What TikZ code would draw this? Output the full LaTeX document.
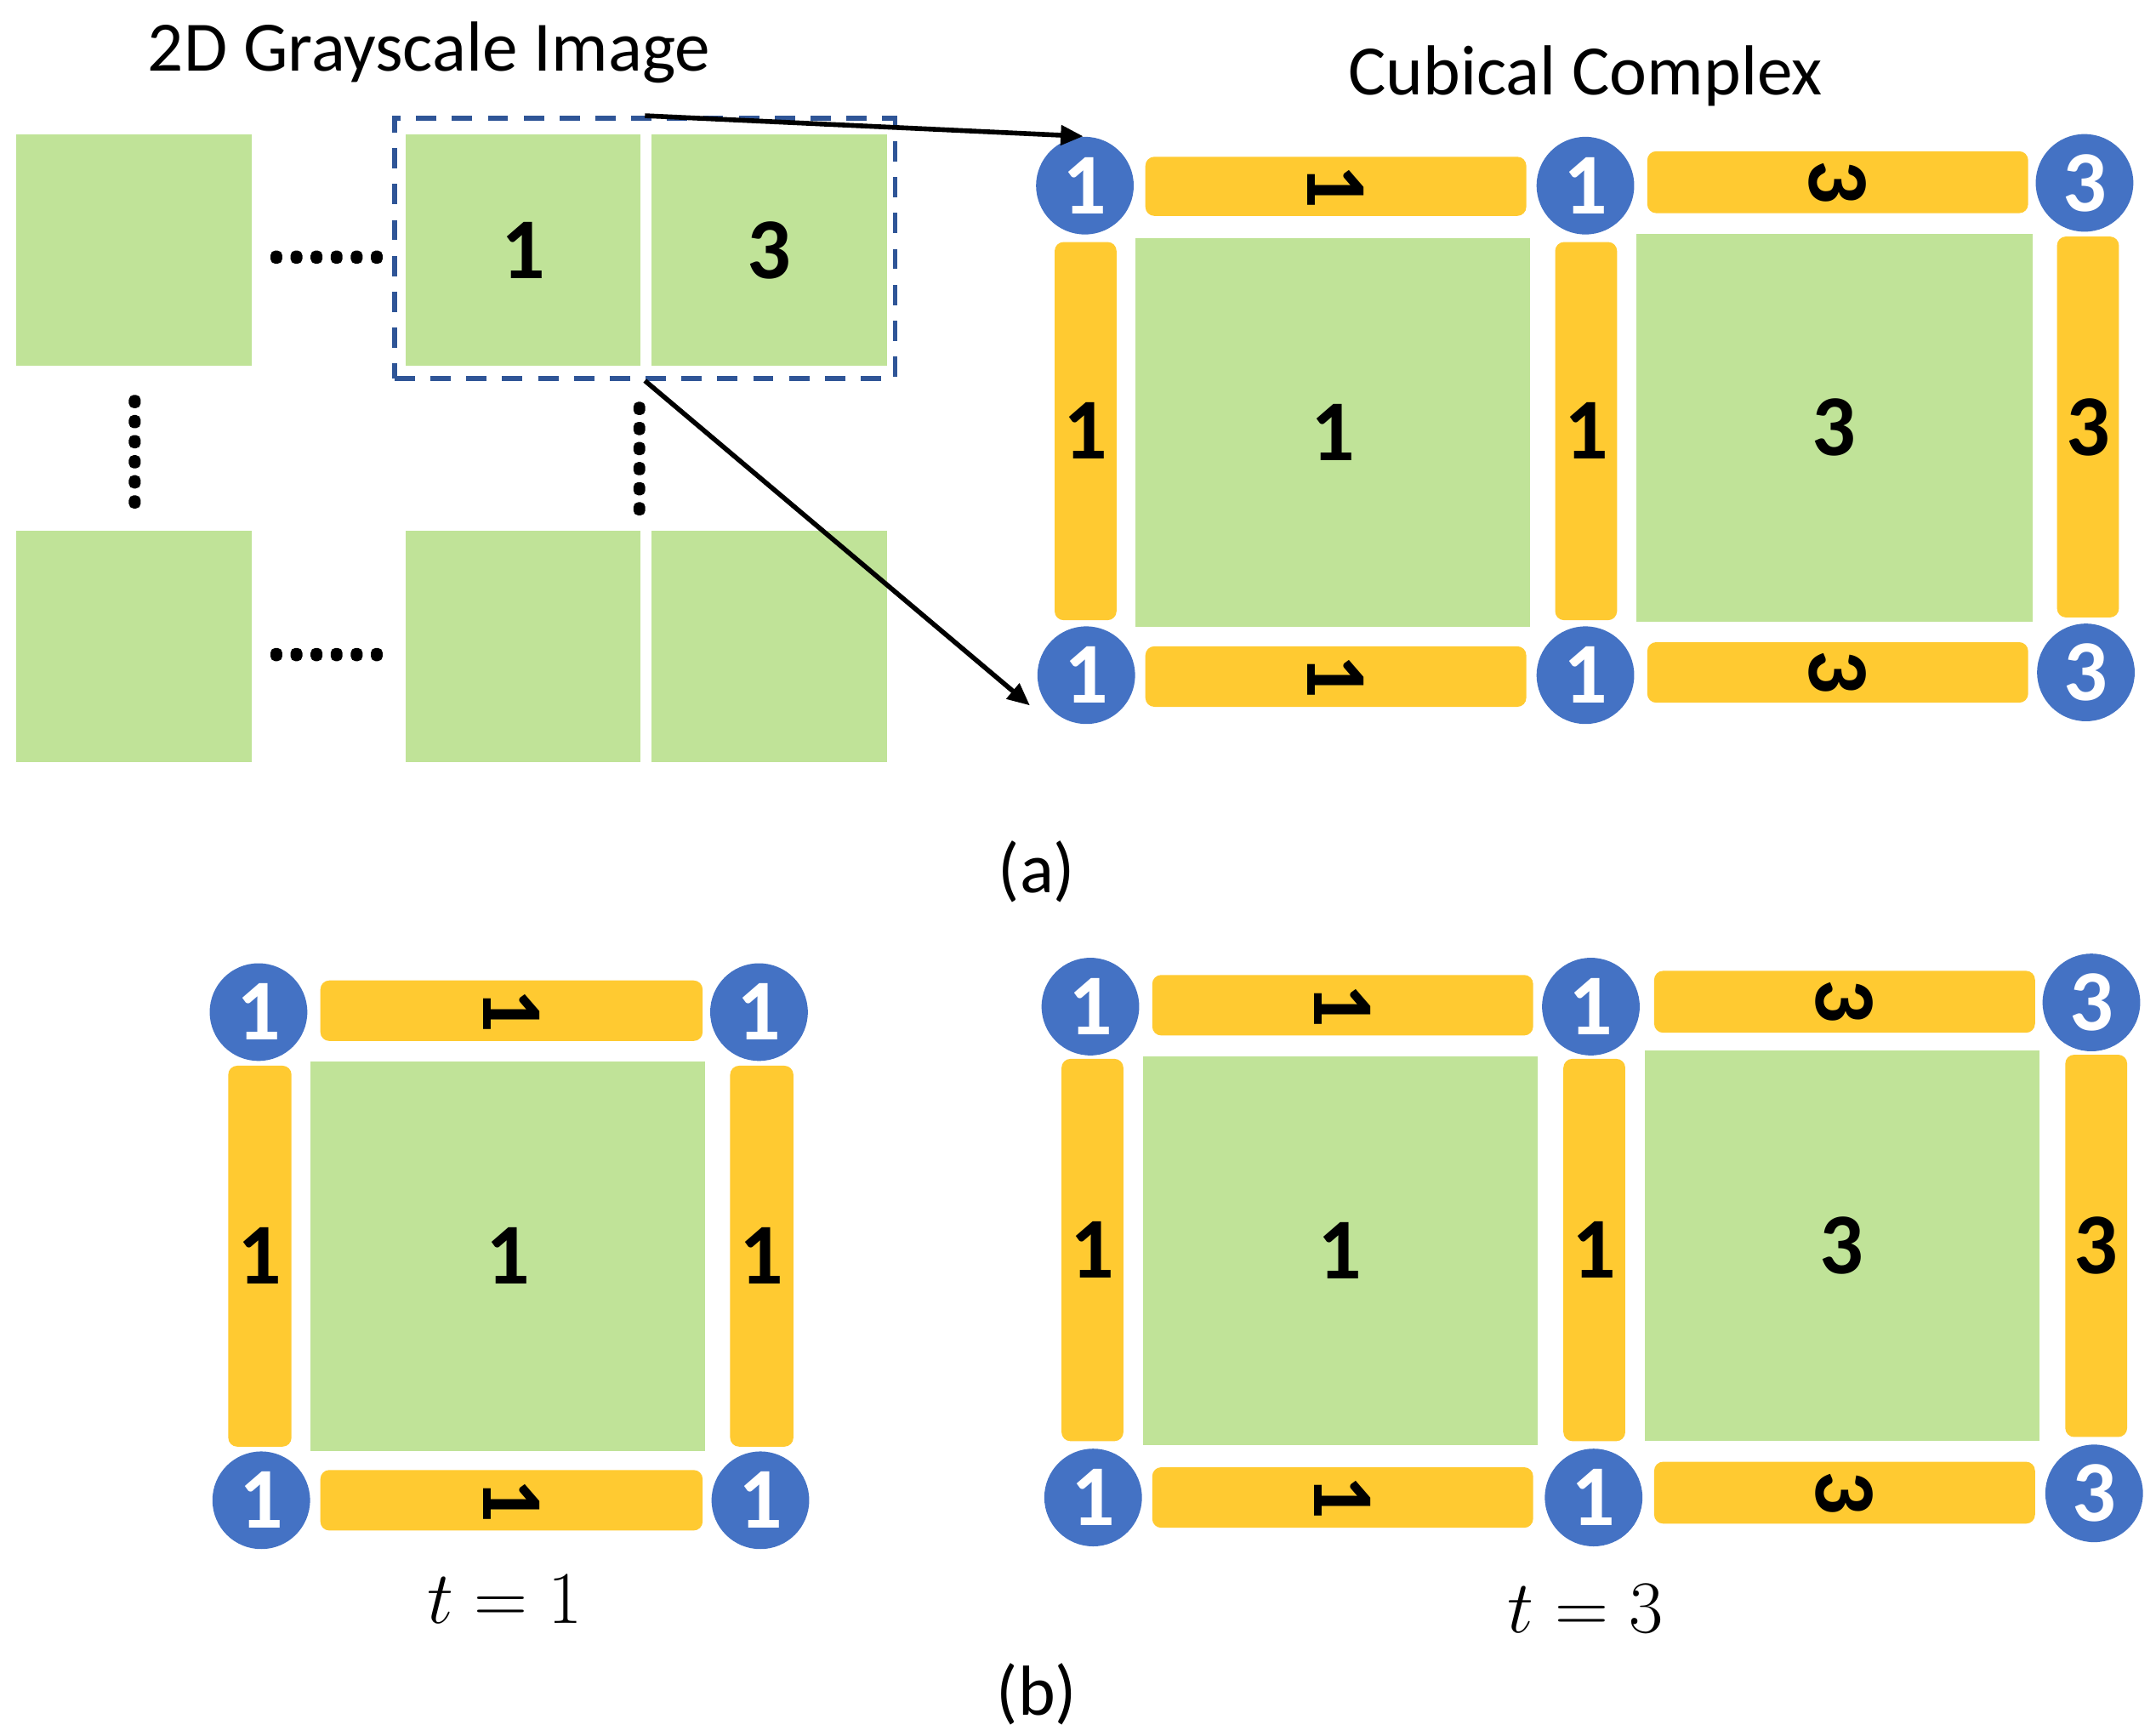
\documentclass[tikz,border=0pt]{standalone}
\usepackage{fontspec}
\setmainfont{Carlito}
\usepackage{graphicx}
\usetikzlibrary{arrows.meta,calc}
\definecolor{cgreen}{HTML}{C0E398}
\definecolor{cyellow}{HTML}{FFCA31}
\definecolor{cblue}{HTML}{4472C4}
\definecolor{cdash}{HTML}{2F5597}
\def\pxu{0.016167cm}
\newcommand\numfont{\bfseries\fontsize{29}{30}\selectfont}
\newcommand\cellnode[7]{\node[#1, minimum width={(#5-#3)*\pxu}, minimum height={(#6-#4)*\pxu}] (#2) at ({(#3+#5)/2},{(#4+#6)/2}) {#7};}
\newcommand\rot[1]{\rotatebox{-90}{#1}}
\tikzset{
  sqr/.style={fill=cgreen, inner sep=0pt, font=\numfont},
  bar/.style={fill=cyellow, rounded corners=3pt, inner sep=0pt, font=\numfont},
  vtx/.style={circle, fill=cblue, text=white, minimum size=71*\pxu, inner sep=0pt, font=\numfont},
  dashbox/.style={draw=cdash, line width=1.7pt, dash pattern=on 6.8pt off 5.2pt, inner sep=0pt},
  dotmark/.style={fill=black, rounded corners=1.6pt},
  arr/.style={line width=1.6pt, -{Triangle[length=7.5pt,width=6.5pt]}},
  ttl/.style={font=\fontsize{23.7}{27}\selectfont, inner sep=0pt},
  mth/.style={font=\fontsize{23}{28}\selectfont, inner sep=0pt}
}
\begin{document}
\begin{tikzpicture}[x=\pxu, y=-\pxu]
\useasboundingbox (0,0) rectangle (1568,1262);
\fill[white] (0,0) rectangle (1568,1262);

% ---------- (a) left: grayscale image ----------
\node[ttl] (title1) at (312,38) {2D Grayscale Image};
\cellnode{sqr}{g1}{12}{98}{183}{266}{}
\cellnode{sqr}{g2}{295}{98}{466}{266}{1}
\cellnode{sqr}{g3}{474}{98}{645}{266}{3}
\cellnode{sqr}{g4}{12}{386}{183}{554}{}
\cellnode{sqr}{g5}{295}{386}{466}{554}{}
\cellnode{sqr}{g6}{474}{386}{645}{554}{}
\cellnode{dashbox}{dbox}{287}{86}{651}{275}{}
% dotted ellipses
\foreach \i in {0,...,5}{
  \fill[dotmark] ({201+14.6*\i-4.3},{187-4.8}) rectangle ++(8.6,9.6);
  \fill[dotmark] ({201+14.6*\i-4.3},{476-4.8}) rectangle ++(8.6,9.6);
  \fill[dotmark] (98-4.3,{292+14.6*\i-4.8}) rectangle ++(8.6,9.6);
  \fill[dotmark] (465-4.3,{297+14.6*\i-4.8}) rectangle ++(8.6,9.6);
}

% ---------- (a) right: cubical complex ----------
\node[ttl] (title2) at (1153,55) {Cubical Complex};
\cellnode{sqr}{sA1}{826}{173}{1113}{456}{1}
\cellnode{sqr}{sA2}{1190}{170}{1478}{452}{3}
\cellnode{bar}{hA1}{833}{114}{1110}{157}{\rot{1}}
\cellnode{bar}{hA2}{1198}{110}{1475}{155}{\rot{3}}
\cellnode{bar}{hA3}{833}{470}{1110}{514}{\rot{1}}
\cellnode{bar}{hA4}{1198}{467}{1475}{511}{\rot{3}}
\cellnode{bar}{vA1}{767}{176}{812}{451}{1}
\cellnode{bar}{vA2}{1131}{176}{1176}{451}{1}
\cellnode{bar}{vA3}{1496}{172}{1541}{449}{3}
\node[vtx] (v11) at (789,135) {1};
\node[vtx] (v12) at (1153,135) {1};
\node[vtx] (v13) at (1516,133) {3};
\node[vtx] (v21) at (790,491) {1};
\node[vtx] (v22) at (1153,491) {1};
\node[vtx] (v23) at (1517,489) {3};
\node[ttl] (la) at (754,634) {(a)};

\draw[arr] (dbox.north) -- (v11.92);
\draw[arr] (dbox.south) -- ([shift={(-41,22)}]v21.center);

% ---------- (b) left: t = 1 ----------
\cellnode{sqr}{sB1}{226}{772}{513}{1055}{1}
\cellnode{bar}{hB1}{233}{713}{511}{757}{\rot{1}}
\cellnode{bar}{hB2}{233}{1069}{511}{1113}{\rot{1}}
\cellnode{bar}{vB1}{166}{775}{212}{1052}{1}
\cellnode{bar}{vB2}{531}{775}{577}{1052}{1}
\node[vtx] (w11) at (188,736) {1};
\node[vtx] (w12) at (552,736) {1};
\node[vtx] (w21) at (190,1091) {1};
\node[vtx] (w22) at (553,1091) {1};
\node[mth] (t1) at (367,1163) {$t = 1$};

% ---------- (b) right: t = 3 ----------
\cellnode{sqr}{sC1}{831}{768}{1118}{1051}{1}
\cellnode{sqr}{sC2}{1196}{764}{1483}{1048}{3}
\cellnode{bar}{hC1}{838}{709}{1115}{753}{\rot{1}}
\cellnode{bar}{hC2}{1203}{706}{1480}{751}{\rot{3}}
\cellnode{bar}{hC3}{838}{1067}{1115}{1111}{\rot{1}}
\cellnode{bar}{hC4}{1203}{1063}{1480}{1108}{\rot{3}}
\cellnode{bar}{vC1}{772}{770}{817}{1048}{1}
\cellnode{bar}{vC2}{1137}{770}{1182}{1048}{1}
\cellnode{bar}{vC3}{1502}{767}{1547}{1045}{3}
\node[vtx] (u11) at (793,732) {1};
\node[vtx] (u12) at (1157,732) {1};
\node[vtx] (u13) at (1521,729) {3};
\node[vtx] (u21) at (795,1089) {1};
\node[vtx] (u22) at (1159,1089) {1};
\node[vtx] (u23) at (1523,1086) {3};
\node[mth] (t3) at (1153,1170) {$t = 3$};
\node[ttl] (lb) at (754,1232) {(b)};
\end{tikzpicture}
\end{document}
